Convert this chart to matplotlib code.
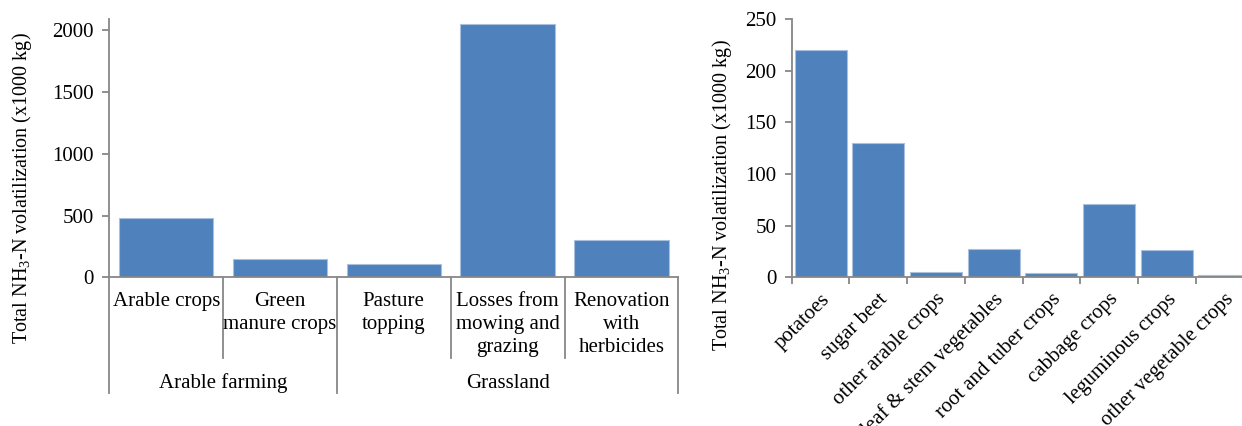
import matplotlib.pyplot as plt
import matplotlib.transforms as mtransforms

# === DATA ===

left_cats = ["Arable crops", "Green\nmanure crops", "Pasture\ntopping",
             "Losses from\nmowing and\ngrazing", "Renovation\nwith\nherbicides"]
left_vals = [482, 147, 106, 2050, 298]
groups = ["Arable farming", "Grassland"]
group_sizes = [2, 3]

right_cats = ["potatoes", "sugar beet", "other arable crops", "leaf & stem vegetables",
              "root and tuber crops", "cabbage crops", "leguminous crops",
              "other vegetable crops"]
right_vals = [220, 130, 4.8, 27, 3.7, 70.7, 26, 2.2]

# === STYLE ===

FS = 15
plt.rcParams['font.family'] = ['Liberation Serif', 'DejaVu Serif']
plt.rcParams['font.size'] = FS
plt.rcParams['mathtext.fontset'] = 'custom'
plt.rcParams['mathtext.rm'] = 'Liberation Serif'
bar_color = '#4F81BD'
edge_color = '#A9C1DE'
axis_gray = '#878787'
ylabel = "Total NH$_3$-N volatilization (x1000 kg)"

W, H = 1242, 426
fig = plt.figure(figsize=(W / 100, H / 100), dpi=100)

# pixel geometry of the plot areas
y0_px, ytop_px = 277.3, 19
axh = (y0_px - ytop_px) / H
bottom = 1 - y0_px / H

ax1 = fig.add_axes([109.3 / W, bottom, (678.3 - 109.3) / W, axh])
ax2 = fig.add_axes([791.7 / W, bottom, 8 * 57.7 / W, axh])

def px_to_axes(py):
    # pixel row below the x axis -> axes fraction
    return -(py - y0_px) / (y0_px - ytop_px)

# === LEFT PANEL ===

x1 = list(range(len(left_cats)))
ax1.bar(x1, left_vals, width=0.83, color=bar_color, edgecolor=edge_color, linewidth=0.8)
ax1.set_xlim(-0.5, len(left_cats) - 0.5)
ax1.set_ylim(0, 2090)
ax1.set_yticks([0, 500, 1000, 1500, 2000])
ax1.set_xticks([])

trans1 = mtransforms.blended_transform_factory(ax1.transData, ax1.transAxes)
# category separators
group_edges = [-0.5]
for s in group_sizes:
    group_edges.append(group_edges[-1] + s)
for b in range(len(left_cats) + 1):
    xb = b - 0.5
    low = px_to_axes(393) if xb in group_edges else px_to_axes(358)
    ax1.plot([xb, xb], [0, low], color=axis_gray, lw=1.3, transform=trans1, clip_on=False)

for i, lab in enumerate(left_cats):
    ax1.text(i, px_to_axes(292), lab, transform=trans1, ha='center', va='top',
             linespacing=1.3, fontsize=FS)

for g, lab in enumerate(groups):
    xc = (group_edges[g] + group_edges[g + 1]) / 2
    ax1.text(xc, px_to_axes(383), lab, transform=trans1, ha='center', va='center', fontsize=FS)

# === RIGHT PANEL ===

x2 = list(range(len(right_cats)))
ax2.bar(x2, right_vals, width=0.9, color=bar_color, edgecolor=edge_color, linewidth=0.8)
ax2.set_xlim(-0.5, len(right_cats) - 0.5)
ax2.set_ylim(0, 250)
ax2.set_yticks([0, 50, 100, 150, 200, 250])
ax2.set_xticks(x2)
ax2.set_xticklabels(right_cats, rotation=45, ha='right', rotation_mode='anchor', fontsize=FS)
ax2.set_xticks([b - 0.5 for b in range(len(right_cats) + 1)], minor=True)
ax2.tick_params(axis='x', which='major', length=0, pad=9)
ax2.tick_params(axis='x', which='minor', length=5, width=1.3, color=axis_gray, direction='out')

# === AXIS STYLING ===

for ax in (ax1, ax2):
    for side in ('top', 'right'):
        ax.spines[side].set_visible(False)
    for side in ('left', 'bottom'):
        ax.spines[side].set_color(axis_gray)
        ax.spines[side].set_linewidth(1.3)
    ax.tick_params(axis='y', length=5, width=1.3, color=axis_gray, labelsize=FS, pad=6)
    ax.patch.set_alpha(0)

fig.text(21.7 / W, 1 - 188 / H, ylabel, rotation=90, ha='center', va='center', fontsize=14.5)
fig.text(721.7 / W, 1 - 195 / H, ylabel, rotation=90, ha='center', va='center', fontsize=14.5)

fig.savefig("out.png", dpi=100)
